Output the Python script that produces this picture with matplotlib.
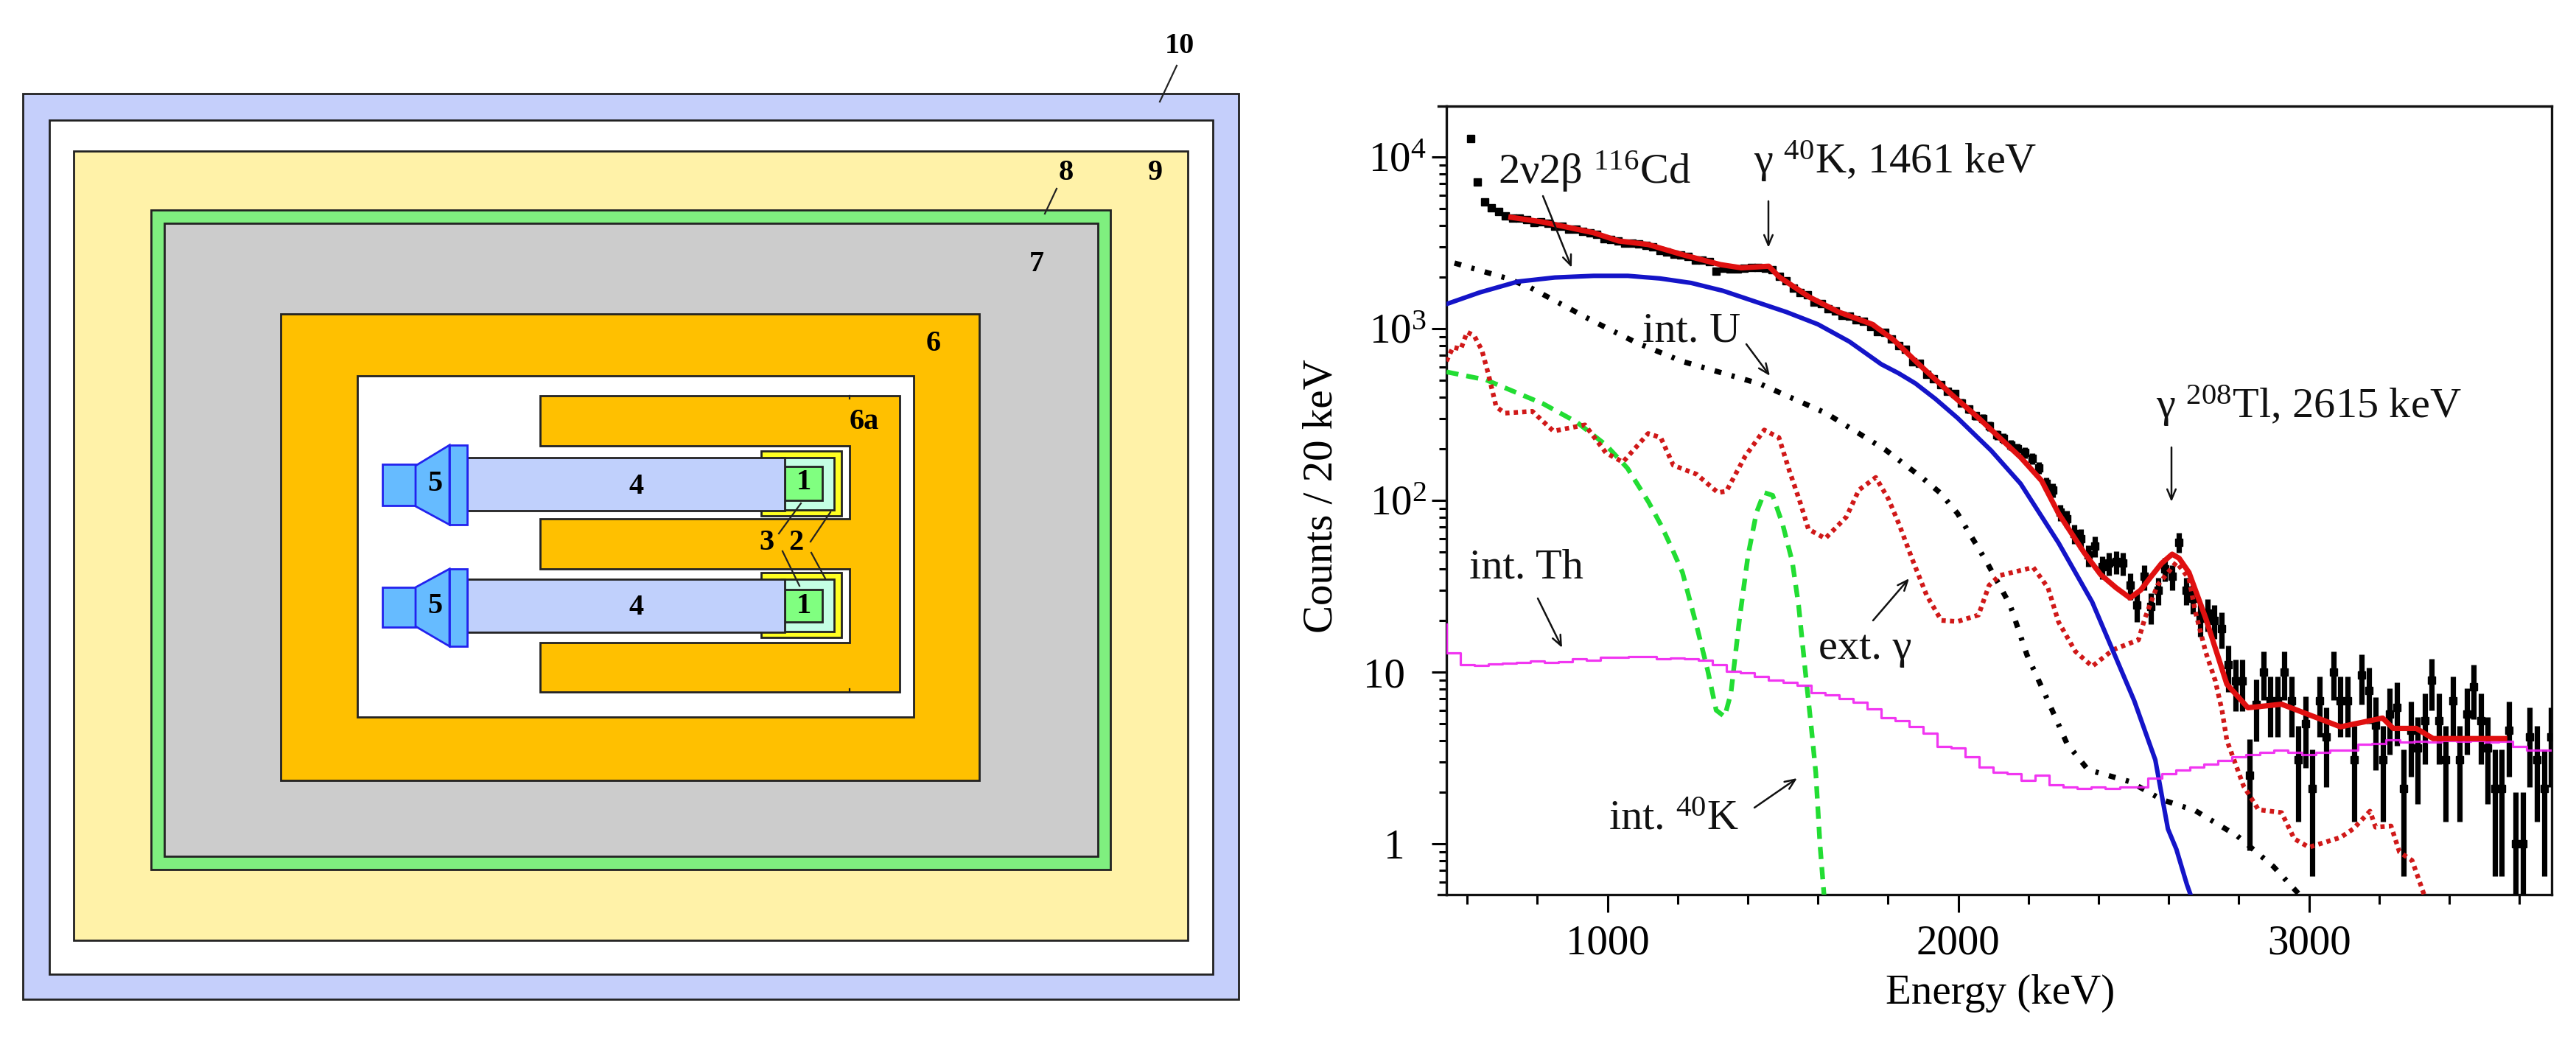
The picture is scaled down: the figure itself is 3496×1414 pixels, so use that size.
import numpy as np
import matplotlib
matplotlib.use("Agg")
import matplotlib.pyplot as plt
from matplotlib.patches import Rectangle, Polygon

W, H = 3496, 1414
plt.rcParams['font.family'] = ['Liberation Serif', 'DejaVu Serif']
plt.rcParams['mathtext.fontset'] = 'custom'
plt.rcParams['mathtext.rm'] = 'Liberation Serif'
plt.rcParams['mathtext.it'] = 'Liberation Serif:italic'
plt.rcParams['mathtext.bf'] = 'Liberation Serif:bold'

# ---------- spectrum values ----------
data_low_start = 610
data_low = [12800, 7150, 5470, 5040, 4800, 4550, 4400, 4400, 4300, 4150, 4200, 4100, 3950, 3950, 3800, 3800, 3700, 3600,
            3550, 3350, 3300, 3250, 3150, 3150, 3100, 3050, 3000, 2850, 2800, 2700, 2680, 2620, 2500, 2500, 2450, 2150,
            2250, 2230, 2220, 2250, 2280, 2270, 2250, 2200, 2020, 1900, 1720, 1620, 1570, 1420, 1400, 1300, 1270, 1200,
            1180, 1120, 1100, 1030, 960, 950, 870, 800, 760, 640, 630, 540, 510, 470, 430, 420, 370, 340, 310, 300, 270,
            240, 230, 210, 200, 190, 175, 155, 125, 115, 85, 78, 64, 60, 48]
data_high_start = 2390
data_high = [54, 41, 43, 44, 43, 32, 24.6, 36, 24, 30, 40, 36, 57, 30, 27, 20.6, 22, 20, 18, 11, 8.9, 8.9, 2.5, 6.5, 10,
             6.8, 6.8, 10, 6.8, 3.1, 5, 2.1, 6.8, 4.2, 10, 6.8, 6.8, 3.1, 9.6, 7.8, 4.9, 3.1, 5.7, 6.2, 2.1, 4.6, 3.6,
             5.2, 9, 5.2, 3.1, 6.8, 3.1, 5.7, 8.2, 5.2, 3.6, 2.1, 2.1, 4.6, 1, 1, 4.2, 3.1, 2.1, 4.2]

total_e = [725, 815, 960, 1032, 1116, 1213, 1322, 1382, 1460, 1490, 1575, 1659, 1755, 1816, 1888, 1982, 2058, 2178, 2238,
           2286, 2358, 2406, 2450, 2490, 2520, 2550, 2580, 2610, 2630, 2658, 2706, 2766, 2826, 2922, 3090, 3210, 3240, 3306, 3354, 3558]
total_c = [4450, 4180, 3620, 3240, 3090, 2700, 2360, 2260, 2310, 2000, 1530, 1250, 1060, 860, 620, 412, 302, 178, 130,
           84, 50, 37, 31, 27, 30, 36, 43, 48.6, 46, 38, 20.5, 8.5, 6.2, 6.5, 4.8, 5.4, 4.7, 4.7, 4.1, 4.1]

beta_e = [541, 636, 745, 850, 961, 1058, 1150, 1239, 1330, 1420, 1510, 1600, 1690, 1781, 1830, 1878, 1935, 1998, 2094, 2178, 2286, 2382, 2502, 2562, 2598, 2622, 2652, 2680]
beta_c = [1390, 1625, 1880, 1985, 2030, 2030, 1960, 1845, 1660, 1440, 1250, 1060, 840, 620, 550, 480, 390, 302, 195, 125, 56.6, 25.6, 6.8, 3.08, 1.22, 0.93, 0.58, 0.4]

intu_e = [564, 715, 781, 961, 1082, 1213, 1436, 1623, 1791, 1900, 1950, 1998, 2082, 2148, 2196, 2256, 2310, 2370, 2490, 2580, 2676, 2796, 2898, 2946, 2975]
intu_c = [2410, 1960, 1730, 1100, 830, 645, 476, 322, 198, 134, 110, 84, 43.5, 24.6, 12.6, 6.8, 3.84, 2.7, 2.3, 1.81, 1.56, 1.11, 0.74, 0.58, 0.5]

ext_e = [541, 560, 582, 600, 620, 642, 660, 683, 708, 786, 846, 936, 996, 1044, 1116, 1152, 1188, 1254, 1315, 1339, 1393,
         1447, 1489, 1519, 1549, 1573, 1621, 1681, 1717, 1765, 1801, 1831, 1868, 1910, 1952, 1998, 2058, 2088, 2118, 2214,
         2256, 2286, 2334, 2382, 2442, 2514, 2532, 2568, 2622, 2658, 2676, 2706, 2733, 2752, 2766, 2790, 2814, 2838, 2856,
         2922, 2958, 3000, 3090, 3126, 3174, 3190, 3234, 3258, 3294, 3312, 3332]
ext_c = [646, 780, 760, 955, 910, 750, 550, 350, 322, 330, 253, 275, 189, 167, 245, 232, 160, 142, 111, 113, 181,
         257, 232, 148, 98, 68, 60, 80, 115, 136, 102, 73, 46, 28, 20, 19.7, 21.5, 32, 36.5, 40.7,
         31, 19.6, 13.2, 10.8, 13.5, 15.4, 20.5, 32, 43.6, 35, 22.5, 13, 8.9, 6, 4, 2.94, 2.16, 1.81, 1.58,
         1.52, 1.07, 0.955, 1.09, 1.22, 1.55, 1.25, 1.27, 0.895, 0.8, 0.63, 0.48]

k40_e = [541, 654, 817, 913, 996, 1057, 1117, 1154, 1183, 1214, 1256, 1286, 1310, 1334, 1352, 1377, 1401, 1425, 1447, 1471,
         1500, 1527, 1545, 1564, 1582, 1594, 1606, 1618]
k40_c = [560, 503, 365, 285, 210, 154, 98, 71, 53, 38, 18, 10.2, 6, 5.5, 7.5, 20.7, 48, 85, 111, 107,
         72, 44, 24.5, 10.2, 4.6, 2.6, 0.99, 0.49]

th_start = 540
th_c = [12.9, 11, 10.9, 11.1, 11.3, 11.4, 11.6, 11.4, 11.5, 11.9, 11.7, 12.2, 12.2, 12.3, 12.3, 12.0, 12.1, 11.9, 11.7, 11.0,
        10.1, 9.9, 9.4, 9.0, 8.7, 8.4, 7.6, 7.4, 7.0, 6.7, 6.1, 5.4, 5.2, 4.8, 4.4, 3.7, 3.6, 3.2, 2.8, 2.6, 2.55, 2.35, 2.5,
        2.2, 2.15, 2.1, 2.15, 2.1, 2.15, 2.15, 2.4, 2.55, 2.7, 2.8, 2.9, 3.05, 3.2, 3.3, 3.4, 3.5, 3.4, 3.3, 3.4, 3.5, 3.5,
        3.8, 3.85, 4.05, 3.9, 3.95, 3.9, 4.0, 3.95, 4.0, 3.9, 3.95, 3.7, 3.5, 3.5, 3.45]

x_major = [1000, 2000, 3000]
x_minor = [600, 800, 1200, 1400, 1600, 1800, 2200, 2400, 2600, 2800, 3200, 3400, 3600]
y_major = [1, 10, 100, 1000, 10000]
y_labels = ['1', '10', '$10^2$', '$10^3$', '$10^4$']

# ---------- detector sketch ----------
shells = [((31, 127, 1681, 1356), '#C5CFFB'), ((67, 163, 1646, 1322), 'white'), ((100, 205, 1612, 1276), '#FFF2A8'),
          ((205, 285, 1507, 1180), '#7FEF7F'), ((223, 303, 1490, 1162), '#CCCCCC'), ((381, 426, 1329, 1059), '#FFC000'),
          ((485, 510, 1240, 973), 'white')]
holder = [(733, 537), (1221, 537), (1221, 939), (733, 939), (733, 872), (1153, 872), (1153, 772), (733, 772),
          (733, 704), (1153, 704), (1153, 605), (733, 605)]
channels = [dict(yellow=(612, 700), mint=(621, 692), det=(633, 679), guide=(621, 693), flange=(604, 712), pmt=(630, 686), trap=(632, 687)),
            dict(yellow=(777, 865), mint=(786, 857), det=(800, 844), guide=(786, 858), flange=(772, 877), pmt=(797, 851), trap=(797, 850))]
labels = [('1', 1091, 655), ('1', 1091, 822), ('4', 864, 660), ('4', 864, 825), ('5', 590, 657), ('5', 590, 822),
          ('3', 1040, 737), ('2', 1080, 737), ('6a', 1173, 572), ('6', 1267, 466), ('7', 1407, 359), ('8', 1447, 234),
          ('9', 1568, 234), ('10', 1601, 62)]
leaders = [((1087, 683), (1057, 724)), ((1062, 748), (1085, 795)), ((1127, 695), (1100, 735)), ((1101, 750), (1120, 785)),
           ((1434, 256), (1418, 290)), ((1597, 89), (1574, 138)), ((1153, 537), (1153, 541)), ((1153, 935), (1153, 939))]

fig = plt.figure(figsize=(W / 100, H / 100), dpi=100, facecolor='white')

# left panel in pixel coordinates
bg = fig.add_axes([0, 0, 1, 1])
bg.set_xlim(0, W)
bg.set_ylim(H, 0)
bg.axis('off')
EDGE = '#222222'
BLUE = '#2222EE'


def box(x0, y0, x1, y1, fc, ec=EDGE, lw=2.0, z=2):
    bg.add_patch(Rectangle((x0, y0), x1 - x0, y1 - y0, fc=fc, ec=ec, lw=lw, zorder=z))


for (x0, y0, x1, y1), c in shells:
    box(x0, y0, x1, y1, c)
bg.add_patch(Polygon(holder, closed=True, fc='#FFC000', ec=EDGE, lw=2.0, zorder=2))
for ch in channels:
    box(1033, ch['yellow'][0], 1142, ch['yellow'][1], '#FFFF22', z=3)
    box(1060, ch['mint'][0], 1132, ch['mint'][1], '#C4FFE4', z=4)
    box(1065, ch['det'][0], 1116, ch['det'][1], '#80FF80', z=5)
    box(634, ch['guide'][0], 1065, ch['guide'][1], '#C0D0FC', z=6)
    box(519, ch['pmt'][0], 564, ch['pmt'][1], '#66BBFF', ec=BLUE, z=6)
    bg.add_patch(Polygon([(564, ch['trap'][0]), (610, ch['flange'][0]), (610, ch['flange'][1]), (564, ch['trap'][1])],
                         closed=True, fc='#66BBFF', ec=BLUE, lw=2.0, zorder=6))
    box(610, ch['flange'][0], 634, ch['flange'][1], '#66BBFF', ec=BLUE, z=7)
for a, b in leaders:
    bg.plot([a[0], b[0]], [a[1], b[1]], color='#222222', lw=1.6, zorder=8)
for s, x, y in labels:
    bg.text(x, y, s, ha='center', va='center', fontsize=29, fontweight='bold', color='black', zorder=9)

# right panel
L, R, T, B = 1963, 3463, 143.5, 1214
ax = fig.add_axes([L / W, 1 - B / H, (R - L) / W, (B - T) / H], zorder=2)
ax.patch.set_alpha(0)
ax.set_yscale('log')
ax.set_xlim(541, 3692)
ax.set_ylim(0.506, 19860)

low_e = data_low_start + 20 * np.arange(len(data_low))
high_e = data_high_start + 20 * np.arange(len(data_high))
all_e = np.concatenate([low_e, high_e])
all_c = np.array(data_low + data_high, dtype=float)
err = np.sqrt(all_c)
ax.errorbar(all_e, all_c, yerr=[np.minimum(err, all_c * 0.999), err], fmt='s', ms=7, color='black',
            elinewidth=5.2, capsize=0, zorder=3)
ax.plot(intu_e, intu_c, color='black', lw=5.2, ls=(0, (1.3, 2.0, 0.6, 2.0)), zorder=3)
ax.plot(k40_e, k40_c, color='#22DD33', lw=4.6, ls=(0, (2.6, 1.7)), zorder=4)
ax.plot(ext_e, ext_c, color='#D01818', lw=4.6, ls=(0, (0.9, 0.9)), zorder=4)
ax.plot(beta_e, beta_c, color='#1414C8', lw=4.4, zorder=5)
ax.step(th_start + 40 * np.arange(len(th_c)), th_c, where='post', color='#F020F0', lw=2.3, alpha=0.9, zorder=6)
ax.plot([th_start, th_start], [th_c[0], 19], color='#F020F0', lw=2.3, zorder=6)
ax.plot(total_e, total_c, color='#E01010', lw=5.2, zorder=7)

for s in ax.spines.values():
    s.set_linewidth(2.4)
    s.set_color('#111111')
ax.set_xticks(x_major)
ax.set_xticks(x_minor, minor=True)
ax.set_xticklabels(['1000', '2000', '3000'])
ax.set_yticks(y_major)
ax.set_yticklabels(y_labels)
ax.tick_params(axis='x', which='major', length=17, width=2.2, pad=12, labelsize=41)
ax.tick_params(axis='x', which='minor', length=9, width=2.2)
ax.tick_params(axis='y', which='major', length=14.5, width=2.2, pad=5, labelsize=41)
ax.tick_params(axis='y', which='minor', length=7, width=2.2, labelleft=False)
for t, lab in zip(ax.yaxis.get_major_ticks(), y_labels):
    if '$' not in lab:
        t.set_pad(26)
ax.set_xlabel('Energy (keV)', fontsize=41, labelpad=0)
ax.xaxis.set_label_coords((2715 - L) / (R - L), 1 - (1322 - T) / (B - T), transform=ax.transAxes)
ax.set_ylabel('Counts / 20 keV', fontsize=41)
ax.yaxis.set_label_coords((1820 - L) / (R - L), 0.505, transform=ax.transAxes)
for yy in (0, 1):
    ax.plot([-0.0073, 0], [yy, yy], transform=ax.transAxes, clip_on=False, color='#111111', lw=2.4, zorder=8)


def F(x, y):
    return (x / W, 1 - y / H)


notes = [('2ν2β $^{116}$Cd', 2033, 249), ('γ $^{40}$K, 1461 keV', 2380, 235), ('int. U', 2229, 463),
         ('γ $^{208}$Tl, 2615 keV', 2926, 567), ('int. Th', 1994, 784), ('ext. γ', 2468, 894), ('int. $^{40}$K', 2183, 1126)]
arrows = [((2094, 266), (2133, 363)), ((2400, 273), (2400, 336)), ((2370, 467), (2402, 510)), ((2947, 607), (2947, 681)),
          ((2087, 812), (2120, 879)), ((2542, 842), (2591, 785)), ((2381, 1096), (2439, 1056))]
for s, x, y in notes:
    fig.text(*F(x, y), s, fontsize=42, ha='left', va='baseline', color='#111111', zorder=10)
for a, b in arrows:
    ax.annotate('', xy=F(*b), xytext=F(*a), xycoords='figure fraction', textcoords='figure fraction',
                arrowprops=dict(arrowstyle='->,head_length=1.0,head_width=0.42', color='#111111', lw=1.8,
                                shrinkA=0, shrinkB=0), zorder=10)

fig.savefig('out.png', dpi=100)
